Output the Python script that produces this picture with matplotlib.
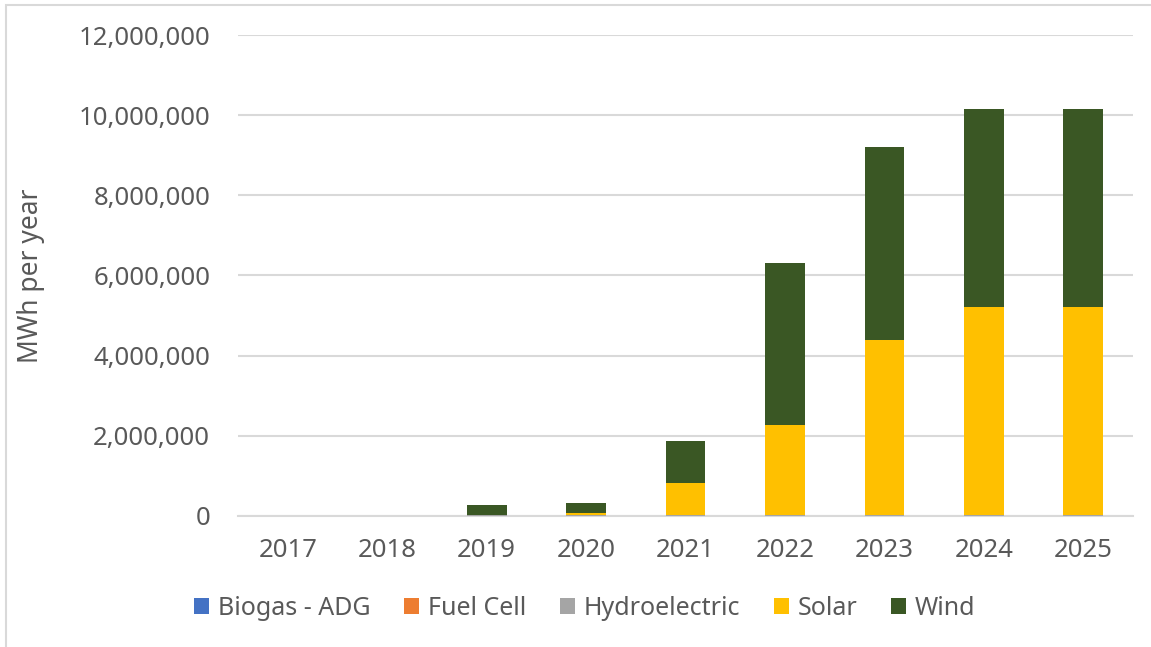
import numpy as np
import matplotlib.pyplot as plt
from matplotlib.ticker import FuncFormatter
from matplotlib.patches import Rectangle

years = ["2017", "2018", "2019", "2020", "2021", "2022", "2023", "2024", "2025"]
biogas = [0, 0, 0, 0, 0, 0, 0, 0, 0]
fuel_cell = [0, 0, 0, 0, 0, 0, 0, 0, 0]
hydro = [0, 0, 20000, 20000, 30000, 30000, 30000, 30000, 30000]
solar = [0, 0, 0, 50000, 790000, 2240000, 4360000, 5180000, 5180000]
wind = [0, 0, 250000, 250000, 1060000, 4040000, 4810000, 4940000, 4940000]

series = [("Biogas - ADG", biogas, "#4472C4"),
          ("Fuel Cell", fuel_cell, "#ED7D31"),
          ("Hydroelectric", hydro, "#A5A5A5"),
          ("Solar", solar, "#FFC000"),
          ("Wind", wind, "#3A5724")]

plt.rcParams['font.family'] = ['Noto Sans', 'DejaVu Sans']
txt = "#595959"

fig = plt.figure(figsize=(11.51, 6.47), dpi=100)
ax = fig.add_axes([0.2068, 0.2025, 0.7776, 0.7434])

x = np.arange(len(years))
bottom = np.zeros(len(years))
for name, vals, col in series:
    vals = np.asarray(vals, dtype=float)
    ax.bar(x, vals, 0.4, bottom=bottom, color=col, label=name, zorder=3)
    bottom += vals

ax.set_ylim(0, 12000000)
ax.set_xlim(-0.5, len(years) - 0.5)
ax.set_yticks(np.arange(0, 12000001, 2000000))
ax.yaxis.set_major_formatter(FuncFormatter(lambda v, p: f"{int(v):,}"))
ax.set_xticks(x)
ax.set_xticklabels(years)
ax.grid(axis="y", color="#d9d9d9", lw=1.5, zorder=0)
for s in ["top", "right", "left"]:
    ax.spines[s].set_visible(False)
ax.spines["bottom"].set_color("#d9d9d9")
ax.spines["bottom"].set_linewidth(1.5)
ax.tick_params(axis="both", length=0, labelsize=18.5, colors=txt)
ax.tick_params(axis="y", pad=20)
ax.tick_params(axis="x", pad=16)
ax.set_ylabel("MWh per year", fontsize=19, color=txt, labelpad=24)

leg = fig.legend(loc="center", bbox_to_anchor=(0.508, 0.06), ncol=5, frameon=False,
                 fontsize=18, handlelength=0.6, handleheight=0.6, handletextpad=0.35,
                 columnspacing=1.35)
for t in leg.get_texts():
    t.set_color(txt)

# chart border
fig.patches.append(Rectangle((6 / 1151, -0.1), 1.2, (647 - 5) / 647 + 0.1,
                             transform=fig.transFigure, fill=False,
                             edgecolor="#d9d9d9", lw=1.5))

fig.savefig("out.png", dpi=100)
